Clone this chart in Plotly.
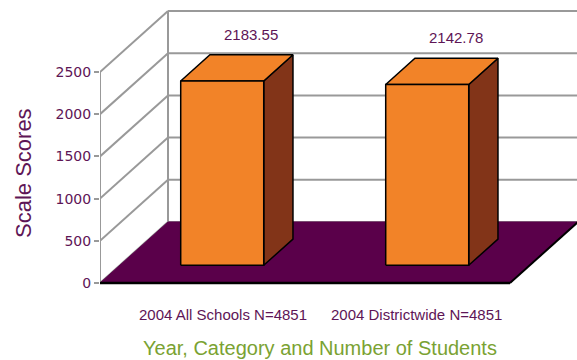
import plotly.graph_objects as go

# ---- data -------------------------------------------------------------
categories = ["2004 All Schools N=4851", "2004 Districtwide N=4851"]
scores = [2183.55, 2142.78]
score_labels = ["2183.55", "2142.78"]
tick_values = [0, 500, 1000, 1500, 2000, 2500]
tick_labels = ["0", "500", "1000", "1500", "2000", "2500"]

# ---- geometry of the pseudo-3D box ------------------------------------
W, H = 577, 360
M_LEFT, M_BOTTOM = 100, 60
PLOT_W, PLOT_H = W - M_LEFT, H - M_BOTTOM
PX_PER_CAT = 205.0                 # horizontal pixels per category slot
PX_PER_VAL = 211.0 / 2500.0        # vertical pixels per score unit
FLOOR_PX = 283.0                   # pixel row of the front floor edge
DEPTH_DX_PX, DEPTH_DY_PX = 68.0, 61.0

DX = DEPTH_DX_PX / PX_PER_CAT      # depth offset in category units
DY = DEPTH_DY_PX / PX_PER_VAL      # depth offset in score units

X_RANGE = [-0.5, -0.5 + PLOT_W / PX_PER_CAT]
Y_RANGE = [-(PLOT_H - FLOOR_PX) / PX_PER_VAL, FLOOR_PX / PX_PER_VAL]

C_LEFT, C_RIGHT = -0.5, len(categories) - 0.5
BAR_HALF = 0.2025
D_FRONT, D_BACK = 0.29, 0.72
V_MAX = tick_values[-1]

GRID = "#999999"
PURPLE_TXT = "#5e1556"
GREEN_TXT = "#7aa232"
ORANGE = "#f28328"
BROWN = "#823418"
FLOOR = "#5a004a"
TEXT_FONT = "Liberation Sans, Arial, sans-serif"


def proj(c, v, d):
    """Oblique projection of (category, value, depth) onto the 2D axes."""
    return c + d * DX, v + d * DY


def poly(points, fill, line_color="black", line_width=1.5):
    xs, ys = zip(*[proj(*p) for p in points])
    xs, ys = list(xs) + [xs[0]], list(ys) + [ys[0]]
    return go.Scatter(x=xs, y=ys, mode="lines", fill="toself", fillcolor=fill,
                      line=dict(color=line_color, width=line_width),
                      hoverinfo="skip", showlegend=False)


def seg(p0, p1, color=GRID, width=2):
    x0, y0 = proj(*p0)
    x1, y1 = proj(*p1)
    return go.Scatter(x=[x0, x1], y=[y0, y1], mode="lines",
                      line=dict(color=color, width=width),
                      hoverinfo="skip", showlegend=False)


fig = go.Figure()

# back wall gridlines and left wall diagonals
for v in tick_values:
    fig.add_trace(seg((C_LEFT, v, 1), (C_RIGHT, v, 1)))
    fig.add_trace(seg((C_LEFT, v, 0), (C_LEFT, v, 1)))
fig.add_trace(seg((C_LEFT, 0, 1), (C_LEFT, V_MAX, 1)))
fig.add_trace(seg((C_LEFT, 0, 0), (C_LEFT, V_MAX, 0)))

# floor
fig.add_trace(poly([(C_LEFT, 0, 0), (C_RIGHT, 0, 0), (C_RIGHT, 0, 1), (C_LEFT, 0, 1)],
                   FLOOR, line_color=FLOOR, line_width=1))
fig.add_trace(seg((C_LEFT, 0, 0), (C_RIGHT, 0, 0), color="black", width=2.5))
fig.add_trace(seg((C_RIGHT, 0, 0), (C_RIGHT, 0, 1), color="black", width=2))

# bars: side, top, front
for i, val in enumerate(scores):
    l, r = i - BAR_HALF, i + BAR_HALF
    fig.add_trace(poly([(r, 0, D_FRONT), (r, 0, D_BACK), (r, val, D_BACK), (r, val, D_FRONT)], BROWN))
    fig.add_trace(poly([(l, val, D_FRONT), (r, val, D_FRONT), (r, val, D_BACK), (l, val, D_BACK)], ORANGE))
    fig.add_trace(poly([(l, 0, D_FRONT), (r, 0, D_FRONT), (r, val, D_FRONT), (l, val, D_FRONT)], ORANGE))

annotations = []
for i, (val, txt) in enumerate(zip(scores, score_labels)):
    x, y = proj(i, val, D_BACK)
    annotations.append(dict(x=x, y=y, xref="x", yref="y", text=txt, showarrow=False,
                            xanchor="center", yanchor="bottom", yshift=10,
                            font=dict(family=TEXT_FONT, size=15, color=PURPLE_TXT)))

# category labels sit either side of the midpoint between the two slots
mid_x, _ = proj((len(categories) - 1) / 2, 0, 0.21)
for i, cat in enumerate(categories):
    left_side = i < (len(categories) - 1) / 2
    annotations.append(dict(x=mid_x, y=(PLOT_H - 314) / PLOT_H, xref="x", yref="paper", text=cat,
                            showarrow=False, xanchor="right" if left_side else "left",
                            xshift=-10 if left_side else 10, yanchor="middle",
                            font=dict(family=TEXT_FONT, size=15, color=PURPLE_TXT)))
annotations.append(dict(x=(320 - M_LEFT) / PLOT_W, y=(PLOT_H - 348) / PLOT_H, xref="paper", yref="paper",
                        text="Year, Category and Number of Students", showarrow=False,
                        xanchor="center", yanchor="middle",
                        font=dict(family=TEXT_FONT, size=20, color=GREEN_TXT)))
annotations.append(dict(x=(23 - M_LEFT) / PLOT_W, y=(PLOT_H - 173) / PLOT_H, xref="paper", yref="paper",
                        text="Scale Scores", textangle=-90, showarrow=False,
                        xanchor="center", yanchor="middle",
                        font=dict(family=TEXT_FONT, size=22, color=PURPLE_TXT)))

fig.update_layout(
    width=W, height=H, autosize=False,
    margin=dict(l=M_LEFT, r=0, t=0, b=M_BOTTOM, pad=0),
    paper_bgcolor="white", plot_bgcolor="white",
    showlegend=False,
    annotations=annotations,
    xaxis=dict(range=X_RANGE, visible=False, fixedrange=True),
    yaxis=dict(range=Y_RANGE, tickvals=tick_values, ticktext=tick_labels,
               ticks="outside", ticklen=5, tickwidth=2, tickcolor=GRID,
               tickfont=dict(family="DejaVu Sans", size=14, color=PURPLE_TXT),
               showgrid=False, zeroline=False, showline=False, fixedrange=True),
)

fig.write_html("out.html")
